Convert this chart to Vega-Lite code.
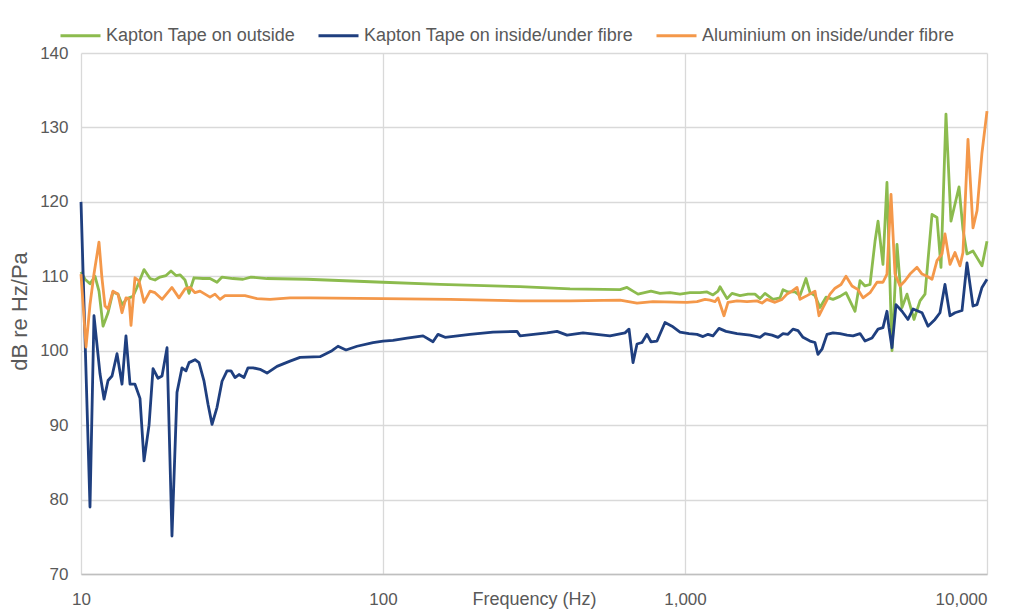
{
  "$schema": "https://vega.github.io/schema/vega-lite/v6.json",
  "width": 906,
  "height": 521,
  "autosize": "none",
  "padding": {"left": 81, "top": 53, "right": 39, "bottom": 42},
  "background": "white",
  "config": {
    "font": "Liberation Sans",
    "view": {"stroke": null}
  },
  "data": {"values": [
{"s":"g","f":10,"db":110.6},{"s":"g","f":10.31,"db":109.6},{"s":"g","f":10.71,"db":109.0},{"s":"g","f":11.13,"db":110.0},{"s":"g","f":11.47,"db":108.0},{"s":"g","f":11.83,"db":103.3},{"s":"g","f":12.29,"db":105.1},{"s":"g","f":12.76,"db":107.9},{"s":"g","f":13.26,"db":107.6},{"s":"g","f":13.67,"db":106.2},{"s":"g","f":14.20,"db":107.0},{"s":"g","f":14.86,"db":107.3},{"s":"g","f":15.32,"db":108.5},{"s":"g","f":16.17,"db":110.9},{"s":"g","f":16.93,"db":109.7},{"s":"g","f":17.58,"db":109.5},{"s":"g","f":18.26,"db":109.9},{"s":"g","f":19.12,"db":110.1},{"s":"g","f":19.86,"db":110.7},{"s":"g","f":20.63,"db":110.1},{"s":"g","f":21.27,"db":110.2},{"s":"g","f":22.10,"db":109.5},{"s":"g","f":22.79,"db":107.7},{"s":"g","f":23.67,"db":109.8},{"s":"g","f":25.35,"db":109.7},{"s":"g","f":26.74,"db":109.7},{"s":"g","f":28.21,"db":109.2},{"s":"g","f":29.31,"db":109.9},{"s":"g","f":31.86,"db":109.7},{"s":"g","f":34.39,"db":109.6},{"s":"g","f":36.55,"db":109.9},{"s":"g","f":41.30,"db":109.7},{"s":"g","f":56.01,"db":109.6},{"s":"g","f":100,"db":109.2},{"s":"g","f":154.4,"db":108.9},{"s":"g","f":284.2,"db":108.6},{"s":"g","f":416.2,"db":108.3},{"s":"g","f":609.3,"db":108.2},{"s":"g","f":642.7,"db":108.5},{"s":"g","f":672.8,"db":108.0},{"s":"g","f":699.0,"db":107.6},{"s":"g","f":771.5,"db":108.0},{"s":"g","f":826.5,"db":107.7},{"s":"g","f":892.1,"db":107.8},{"s":"g","f":962.5,"db":107.6},{"s":"g","f":1039,"db":107.8},{"s":"g","f":1121,"db":107.8},{"s":"g","f":1183,"db":107.9},{"s":"g","f":1238,"db":107.5},{"s":"g","f":1286,"db":108.0},{"s":"g","f":1306,"db":108.6},{"s":"g","f":1378,"db":107.0},{"s":"g","f":1431,"db":107.7},{"s":"g","f":1521,"db":107.4},{"s":"g","f":1617,"db":107.6},{"s":"g","f":1705,"db":107.6},{"s":"g","f":1772,"db":107.0},{"s":"g","f":1840,"db":107.7},{"s":"g","f":1956,"db":106.9},{"s":"g","f":2063,"db":107.1},{"s":"g","f":2111,"db":108.2},{"s":"g","f":2193,"db":107.9},{"s":"g","f":2313,"db":107.9},{"s":"g","f":2403,"db":107.4},{"s":"g","f":2516,"db":109.7},{"s":"g","f":2594,"db":107.8},{"s":"g","f":2694,"db":107.4},{"s":"g","f":2799,"db":105.8},{"s":"g","f":2931,"db":107.2},{"s":"g","f":3091,"db":106.9},{"s":"g","f":3261,"db":107.3},{"s":"g","f":3413,"db":107.8},{"s":"g","f":3656,"db":105.3},{"s":"g","f":3798,"db":109.4},{"s":"g","f":3945,"db":108.7},{"s":"g","f":4099,"db":108.9},{"s":"g","f":4258,"db":114.7},{"s":"g","f":4357,"db":117.4},{"s":"g","f":4524,"db":111.6},{"s":"g","f":4664,"db":122.6},{"s":"g","f":4846,"db":100.0},{"s":"g","f":5035,"db":114.3},{"s":"g","f":5230,"db":105.8},{"s":"g","f":5433,"db":107.6},{"s":"g","f":5731,"db":104.2},{"s":"g","f":6000,"db":106.7},{"s":"g","f":6234,"db":107.6},{"s":"g","f":6575,"db":118.3},{"s":"g","f":6830,"db":117.9},{"s":"g","f":7041,"db":111.2},{"s":"g","f":7314,"db":131.8},{"s":"g","f":7598,"db":117.4},{"s":"g","f":8077,"db":122.0},{"s":"g","f":8326,"db":116.3},{"s":"g","f":8585,"db":113.0},{"s":"g","f":8987,"db":113.4},{"s":"g","f":9625,"db":111.4},{"s":"g","f":10000,"db":114.7},
{"s":"b","f":10,"db":120.0},{"s":"b","f":10.71,"db":79.0},{"s":"b","f":11.04,"db":104.7},{"s":"b","f":11.56,"db":96.9},{"s":"b","f":11.92,"db":93.5},{"s":"b","f":12.29,"db":96.0},{"s":"b","f":12.67,"db":96.6},{"s":"b","f":13.16,"db":99.6},{"s":"b","f":13.67,"db":95.5},{"s":"b","f":14.09,"db":102.0},{"s":"b","f":14.53,"db":95.5},{"s":"b","f":15.09,"db":95.5},{"s":"b","f":15.68,"db":93.6},{"s":"b","f":16.17,"db":85.2},{"s":"b","f":16.80,"db":90.0},{"s":"b","f":17.32,"db":97.6},{"s":"b","f":17.99,"db":96.3},{"s":"b","f":18.55,"db":96.6},{"s":"b","f":19.27,"db":100.4},{"s":"b","f":20.01,"db":75.1},{"s":"b","f":20.79,"db":94.4},{"s":"b","f":21.60,"db":97.7},{"s":"b","f":22.27,"db":97.3},{"s":"b","f":22.79,"db":98.4},{"s":"b","f":23.85,"db":98.8},{"s":"b","f":24.59,"db":98.4},{"s":"b","f":25.55,"db":95.9},{"s":"b","f":26.34,"db":92.8},{"s":"b","f":27.16,"db":90.1},{"s":"b","f":28.21,"db":92.4},{"s":"b","f":29.31,"db":95.9},{"s":"b","f":30.44,"db":97.3},{"s":"b","f":31.38,"db":97.3},{"s":"b","f":32.35,"db":96.4},{"s":"b","f":33.36,"db":96.8},{"s":"b","f":34.65,"db":96.4},{"s":"b","f":35.73,"db":97.7},{"s":"b","f":37.11,"db":97.7},{"s":"b","f":39.15,"db":97.5},{"s":"b","f":41.30,"db":97.0},{"s":"b","f":44.57,"db":97.9},{"s":"b","f":49.22,"db":98.6},{"s":"b","f":53.11,"db":99.1},{"s":"b","f":61.84,"db":99.2},{"s":"b","f":67.78,"db":100.0},{"s":"b","f":70.96,"db":100.6},{"s":"b","f":75.43,"db":100.1},{"s":"b","f":82.04,"db":100.6},{"s":"b","f":92.66,"db":101.1},{"s":"b","f":100,"db":101.3},{"s":"b","f":107.9,"db":101.4},{"s":"b","f":120.1,"db":101.7},{"s":"b","f":135.7,"db":102.0},{"s":"b","f":146.4,"db":101.2},{"s":"b","f":152.1,"db":102.2},{"s":"b","f":160.5,"db":101.8},{"s":"b","f":194.1,"db":102.2},{"s":"b","f":231.3,"db":102.5},{"s":"b","f":277.8,"db":102.6},{"s":"b","f":284.2,"db":102.0},{"s":"b","f":349.1,"db":102.4},{"s":"b","f":376.9,"db":102.6},{"s":"b","f":406.8,"db":102.1},{"s":"b","f":459.6,"db":102.4},{"s":"b","f":564.6,"db":102.0},{"s":"b","f":632.9,"db":102.4},{"s":"b","f":652.6,"db":102.9},{"s":"b","f":672.8,"db":98.4},{"s":"b","f":693.6,"db":100.9},{"s":"b","f":720.5,"db":101.1},{"s":"b","f":748.4,"db":102.2},{"s":"b","f":771.5,"db":101.2},{"s":"b","f":807.7,"db":101.3},{"s":"b","f":858.5,"db":103.8},{"s":"b","f":905.6,"db":103.3},{"s":"b","f":962.5,"db":102.5},{"s":"b","f":1031,"db":102.3},{"s":"b","f":1096,"db":102.2},{"s":"b","f":1147,"db":101.9},{"s":"b","f":1192,"db":102.2},{"s":"b","f":1238,"db":102.0},{"s":"b","f":1296,"db":103.0},{"s":"b","f":1367,"db":102.6},{"s":"b","f":1487,"db":102.3},{"s":"b","f":1642,"db":102.1},{"s":"b","f":1772,"db":101.8},{"s":"b","f":1840,"db":102.3},{"s":"b","f":1942,"db":102.1},{"s":"b","f":2032,"db":101.8},{"s":"b","f":2111,"db":102.3},{"s":"b","f":2193,"db":102.2},{"s":"b","f":2278,"db":102.9},{"s":"b","f":2367,"db":102.7},{"s":"b","f":2459,"db":101.8},{"s":"b","f":2594,"db":101.3},{"s":"b","f":2694,"db":101.1},{"s":"b","f":2756,"db":99.5},{"s":"b","f":2842,"db":100.2},{"s":"b","f":2953,"db":102.2},{"s":"b","f":3091,"db":102.4},{"s":"b","f":3261,"db":102.3},{"s":"b","f":3440,"db":102.1},{"s":"b","f":3601,"db":102.0},{"s":"b","f":3798,"db":102.3},{"s":"b","f":3945,"db":101.3},{"s":"b","f":4162,"db":101.7},{"s":"b","f":4357,"db":102.9},{"s":"b","f":4524,"db":103.1},{"s":"b","f":4664,"db":105.3},{"s":"b","f":4736,"db":103.1},{"s":"b","f":4846,"db":100.4},{"s":"b","f":4996,"db":106.2},{"s":"b","f":5230,"db":105.3},{"s":"b","f":5475,"db":104.2},{"s":"b","f":5689,"db":105.6},{"s":"b","f":6094,"db":105.1},{"s":"b","f":6377,"db":103.3},{"s":"b","f":6726,"db":104.2},{"s":"b","f":6987,"db":105.1},{"s":"b","f":7258,"db":108.9},{"s":"b","f":7541,"db":104.7},{"s":"b","f":7834,"db":105.1},{"s":"b","f":8265,"db":105.4},{"s":"b","f":8585,"db":111.8},{"s":"b","f":8987,"db":106.0},{"s":"b","f":9267,"db":106.2},{"s":"b","f":9625,"db":108.5},{"s":"b","f":10000,"db":109.6},
{"s":"o","f":10,"db":110.3},{"s":"o","f":10.39,"db":100.5},{"s":"o","f":10.71,"db":106.2},{"s":"o","f":11.04,"db":110.3},{"s":"o","f":11.47,"db":114.6},{"s":"o","f":11.73,"db":109.8},{"s":"o","f":12.01,"db":106.0},{"s":"o","f":12.29,"db":105.6},{"s":"o","f":12.76,"db":108.0},{"s":"o","f":13.26,"db":107.6},{"s":"o","f":13.67,"db":105.1},{"s":"o","f":14.09,"db":107.1},{"s":"o","f":14.42,"db":107.0},{"s":"o","f":14.64,"db":103.4},{"s":"o","f":15.09,"db":109.8},{"s":"o","f":15.56,"db":109.4},{"s":"o","f":16.17,"db":106.5},{"s":"o","f":16.93,"db":108.0},{"s":"o","f":17.58,"db":107.8},{"s":"o","f":18.55,"db":106.9},{"s":"o","f":20.01,"db":108.5},{"s":"o","f":21.11,"db":107.1},{"s":"o","f":22.10,"db":108.3},{"s":"o","f":22.96,"db":108.5},{"s":"o","f":23.85,"db":107.8},{"s":"o","f":24.78,"db":108.0},{"s":"o","f":25.74,"db":107.6},{"s":"o","f":26.74,"db":107.2},{"s":"o","f":27.78,"db":107.6},{"s":"o","f":28.86,"db":106.9},{"s":"o","f":29.98,"db":107.4},{"s":"o","f":32.35,"db":107.4},{"s":"o","f":34.91,"db":107.4},{"s":"o","f":38.26,"db":107.0},{"s":"o","f":42.25,"db":106.9},{"s":"o","f":49.22,"db":107.1},{"s":"o","f":57.32,"db":107.1},{"s":"o","f":100,"db":107.0},{"s":"o","f":166.7,"db":106.9},{"s":"o","f":284.2,"db":106.7},{"s":"o","f":416.2,"db":106.7},{"s":"o","f":609.3,"db":106.8},{"s":"o","f":693.6,"db":106.4},{"s":"o","f":783.4,"db":106.6},{"s":"o","f":1015,"db":106.5},{"s":"o","f":1096,"db":106.6},{"s":"o","f":1165,"db":106.9},{"s":"o","f":1210,"db":106.8},{"s":"o","f":1257,"db":106.6},{"s":"o","f":1286,"db":107.1},{"s":"o","f":1346,"db":104.7},{"s":"o","f":1388,"db":106.5},{"s":"o","f":1487,"db":106.7},{"s":"o","f":1604,"db":106.6},{"s":"o","f":1731,"db":106.7},{"s":"o","f":1799,"db":106.4},{"s":"o","f":1868,"db":106.9},{"s":"o","f":1986,"db":106.5},{"s":"o","f":2095,"db":106.9},{"s":"o","f":2176,"db":107.6},{"s":"o","f":2261,"db":108.0},{"s":"o","f":2349,"db":108.5},{"s":"o","f":2403,"db":106.9},{"s":"o","f":2535,"db":107.4},{"s":"o","f":2694,"db":108.0},{"s":"o","f":2778,"db":104.7},{"s":"o","f":2864,"db":105.8},{"s":"o","f":3021,"db":107.6},{"s":"o","f":3139,"db":108.4},{"s":"o","f":3286,"db":108.9},{"s":"o","f":3413,"db":110.0},{"s":"o","f":3573,"db":108.7},{"s":"o","f":3740,"db":108.2},{"s":"o","f":3886,"db":107.1},{"s":"o","f":4099,"db":107.8},{"s":"o","f":4323,"db":109.2},{"s":"o","f":4524,"db":109.2},{"s":"o","f":4664,"db":110.3},{"s":"o","f":4810,"db":121.0},{"s":"o","f":4959,"db":110.3},{"s":"o","f":5152,"db":108.7},{"s":"o","f":5352,"db":109.4},{"s":"o","f":5559,"db":110.3},{"s":"o","f":5864,"db":111.2},{"s":"o","f":6094,"db":110.3},{"s":"o","f":6329,"db":110.0},{"s":"o","f":6575,"db":109.6},{"s":"o","f":6830,"db":112.1},{"s":"o","f":7096,"db":113.0},{"s":"o","f":7258,"db":115.7},{"s":"o","f":7541,"db":111.6},{"s":"o","f":7834,"db":113.2},{"s":"o","f":8137,"db":111.4},{"s":"o","f":8326,"db":113.2},{"s":"o","f":8650,"db":128.4},{"s":"o","f":8987,"db":116.5},{"s":"o","f":9267,"db":118.8},{"s":"o","f":9625,"db":126.6},{"s":"o","f":10000,"db":132.2}
  ]},
  "mark": {"type": "line", "strokeWidth": 2.8, "strokeJoin": "round"},
  "encoding": {
    "x": {
      "field": "f", "type": "quantitative",
      "scale": {"type": "log", "domain": [10, 10000], "nice": false},
      "axis": {
        "values": [10, 100, 1000, 10000], "format": ",",
        "grid": true, "gridColor": "#d9d9d9", "gridWidth": 1.3,
        "domainColor": "#bfbfbf", "domainWidth": 1.5,
        "ticks": false, "labelFontSize": 17, "labelColor": "#595959",
        "labelPadding": 17, "labelFlush": false, "labelOverlap": false, "labelBound": false,
        "labelAlign": {"condition": {"test": "datum.value == 10000", "value": "right"}, "value": "center"},
        "title": "Frequency (Hz)", "titleFontSize": 18, "titleFontWeight": "normal",
        "titleColor": "#595959", "titleY": 16, "titleBaseline": "top"
      }
    },
    "y": {
      "field": "db", "type": "quantitative",
      "scale": {"domain": [70, 140], "nice": false, "zero": false},
      "axis": {
        "values": [70, 80, 90, 100, 110, 120, 130, 140],
        "grid": true, "gridColor": "#d9d9d9", "gridWidth": 1.3,
        "domain": false, "ticks": false, "labelFontSize": 17, "labelColor": "#595959",
        "labelPadding": 13,
        "title": "dB re Hz/Pa", "titleFontSize": 22, "titleFontWeight": "normal",
        "titleColor": "#595959", "titleX": -62, "titleY": 258, "titleAngle": -90,
        "titleAlign": "center", "titleBaseline": "middle"
      }
    },
    "color": {
      "field": "s", "type": "nominal",
      "scale": {"domain": ["g", "b", "o"], "range": ["#8CBB4E", "#1F3F7F", "#F4984A"]},
      "legend": {
        "orient": "none", "legendX": -22, "legendY": -39, "direction": "horizontal",
        "title": null, "symbolType": "stroke", "symbolSize": 1600, "symbolStrokeWidth": 3,
        "labelFontSize": 18, "labelColor": "#595959", "labelLimit": 0, "columnPadding": 16, "labelOffset": 4,
        "labelExpr": "datum.value == 'g' ? 'Kapton Tape on outside' : datum.value == 'b' ? 'Kapton Tape on inside/under fibre' : 'Aluminium on inside/under fibre'"
      }
    }
  }
}
